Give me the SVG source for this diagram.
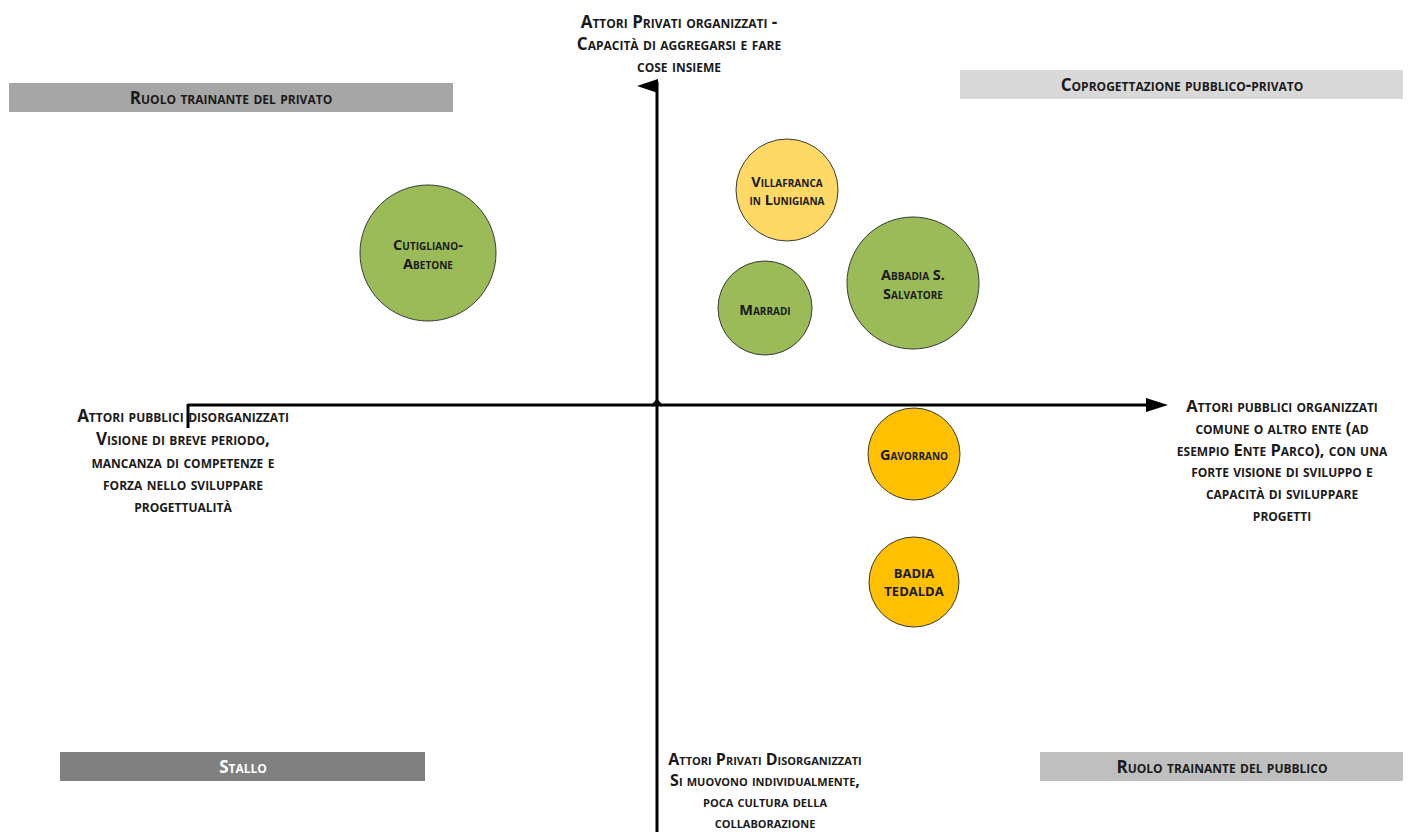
<svg xmlns="http://www.w3.org/2000/svg" width="1408" height="832" viewBox="0 0 1408 832">
<style>
.t{font-family:"Open Sans","Liberation Sans",sans-serif;font-weight:bold;font-variant:small-caps;font-size:17px;fill:#1a1a1a;text-anchor:middle;dominant-baseline:central}
.c{font-size:14.5px}
.b{font-size:16px}
.w{fill:#ffffff}
.g{fill:#9BBB59;stroke:#3a3a3a;stroke-width:1}
.y{fill:#FFD966;stroke:#3a3a3a;stroke-width:1}
.o{fill:#FFC000;stroke:#3a3a3a;stroke-width:1}
.ax{stroke:#000;stroke-width:3;fill:none}
</style>
<rect width="1408" height="832" fill="#ffffff"/>
<g id="connectors">
<line class="ax" x1="657" y1="82" x2="657" y2="832"/>
<polygon points="637,86 658,79 658,93" fill="#000"/>
<line class="ax" x1="188" y1="405" x2="1150" y2="405"/>
<line class="ax" x1="188" y1="404" x2="188" y2="428"/>
<polygon points="1146,398 1168,405 1146,412" fill="#000"/>
<path d="M652,406 L657,400 L662,406" fill="none" stroke="#000" stroke-width="2"/>
</g>
<g id="axis-top">
<text class="t" x="679" y="21">Attori Privati organizzati -</text>
<text class="t" x="679" y="43">Capacità di aggregarsi e fare</text>
<text class="t" x="679" y="65">cose insieme</text>
</g>
<g id="axis-left">
<text class="t" x="183" y="415">Attori pubblici disorganizzati</text>
<text class="t" x="183" y="438">Visione di breve periodo,</text>
<text class="t" x="183" y="461">mancanza di competenze e</text>
<text class="t" x="183" y="483">forza nello sviluppare</text>
<text class="t" x="183" y="505">progettualità</text>
</g>
<g id="axis-right">
<text class="t" x="1282" y="405" style="font-size:16.5px">Attori pubblici organizzati</text>
<text class="t" x="1282" y="427" style="font-size:16.5px">comune o altro ente (ad</text>
<text class="t" x="1282" y="449" style="font-size:16.5px">esempio Ente Parco), con una</text>
<text class="t" x="1282" y="470" style="font-size:16.5px">forte visione di sviluppo e</text>
<text class="t" x="1282" y="492" style="font-size:16.5px">capacità di sviluppare</text>
<text class="t" x="1282" y="514" style="font-size:16.5px">progetti</text>
</g>
<g id="axis-bottom">
<text class="t b" x="765" y="759">Attori Privati Disorganizzati</text>
<text class="t b" x="765" y="780">Si muovono individualmente,</text>
<text class="t b" x="765" y="801">poca cultura della</text>
<text class="t b" x="765" y="822">collaborazione</text>
</g>
<g id="q-privato">
<rect x="9" y="83" width="444" height="29" fill="#A6A6A6"/>
<text class="t" x="231" y="97">Ruolo trainante del privato</text>
</g>
<g id="q-coprogettazione">
<rect x="960" y="70" width="443" height="29" fill="#D9D9D9"/>
<text class="t" x="1182" y="84">Coprogettazione pubblico-privato</text>
</g>
<g id="q-stallo">
<rect x="60" y="752" width="365" height="29" fill="#808080"/>
<text class="t w" x="243" y="766">Stallo</text>
</g>
<g id="q-pubblico">
<rect x="1040" y="752" width="363" height="29" fill="#BFBFBF"/>
<text class="t" x="1222" y="766">Ruolo trainante del pubblico</text>
</g>
<g id="cutigliano">
<circle class="g" cx="428" cy="253" r="68"/>
<text class="t c" x="428" y="244">Cutigliano-</text>
<text class="t c" x="428" y="263">Abetone</text>
</g>
<g id="villafranca">
<circle class="y" cx="787" cy="190" r="51"/>
<text class="t c" x="787" y="181">Villafranca</text>
<text class="t c" x="787" y="199">in Lunigiana</text>
</g>
<g id="marradi">
<circle class="g" cx="765" cy="308" r="47"/>
<text class="t c" x="765" y="309">Marradi</text>
</g>
<g id="abbadia">
<circle class="g" cx="913" cy="283" r="66"/>
<text class="t c" x="913" y="274">Abbadia S.</text>
<text class="t c" x="913" y="293">Salvatore</text>
</g>
<g id="gavorrano">
<circle class="o" cx="914" cy="454" r="46"/>
<text class="t c" x="914" y="454">Gavorrano</text>
</g>
<g id="badia">
<circle class="o" cx="914" cy="582" r="45"/>
<text class="t" x="914" y="573" style="font-size:13px">BADIA</text>
<text class="t" x="914" y="591" style="font-size:13px">TEDALDA</text>
</g>
</svg>
